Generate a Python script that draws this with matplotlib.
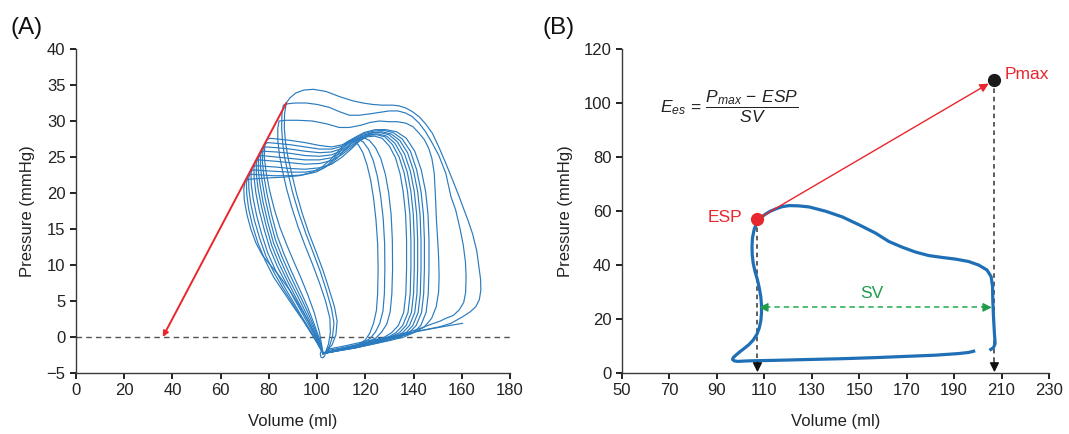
import matplotlib
matplotlib.use("Agg")
import matplotlib.pyplot as plt

plt.rcParams['font.family'] = ['Liberation Sans', 'DejaVu Sans']
plt.rcParams['mathtext.fontset'] = 'custom'
plt.rcParams['mathtext.it'] = 'Liberation Sans:italic'
plt.rcParams['mathtext.rm'] = 'Liberation Sans'
plt.rcParams['mathtext.sf'] = 'Liberation Sans'

# ---------------- Panel A data: pressure-volume loops (volume ml, pressure mmHg)
LOOP_A01 = [(104.5,-1.7),(112,-1.2),(120,-0.6),(128,-0.1),(135,0.3),(143,0.9),(150.6,1.4),(155.5,1.9),
            (160.3,2.8),(163.5,3.5),(165.8,4.2),(167.3,5.2),(167.9,6.5),(167.8,8.0),(167.2,9.5),(166.2,12.0),
            (164.5,14.3),(162.8,16.0),(161.0,17.6),(158.9,19.5),(156.2,21.8),(153.4,24.1),(150.6,26.3),
            (147.8,28.3),(145.0,29.6),(142.3,30.6),(139.5,31.3),(136.8,31.8),(134.0,32.1),(131.3,32.2),
            (127,32.2),(123,32.3),(119,32.5),(114.8,32.8),(109.2,33.4),(103.7,34.1),(98.5,34.4),(94.5,34.3),
            (91.2,33.9),(88.7,33.2),(87.2,32.5),(86.5,31.0),(86.4,29.0),(86.9,27.0),(88.0,24.8),(89.6,22.5),
            (91.4,20.0),(93.8,17.2),(96.6,14.4),(99.6,11.8),(102.4,9.3),(105.0,6.6),(107.2,4.2),(108.3,2.2),
            (107.8,0.3),(106.2,-1.1),(104.5,-1.7)]
LOOP_A02 = [(104.0,-1.9),(112,-1.4),(120,-0.8),(128,-0.2),(135,0.4),(142,1.1),(147.5,1.8),(151,2.2),
            (153.4,2.6),(156.5,3.0),(158.9,3.75),(160.8,4.8),(161.6,6.2),(161.8,8.4),(161.5,10.5),(160.6,12.8),
            (159.3,15.0),(157.5,17.6),(155.5,19.5),(153.4,22.7),(150.5,25.2),(147.8,26.9),(145,28.5),
            (142.3,29.7),(139.5,30.6),(136.8,31.1),(133.5,31.4),(129.9,31.4),(126,31.2),(122,31.0),
            (117.5,30.8),(113.4,30.8),(109.2,31.3),(105,31.9),(100,32.3),(95.5,32.5),(91,32.5),(88,32.4),
            (86.0,32.2),(85.4,31.0),(85.3,29.0),(85.7,27.0),(86.6,24.8),(88.1,22.5),(89.9,20.0),(92.4,17.2),
            (95.3,14.4),(98.4,11.7),(101.3,9.1),(103.9,6.4),(106.0,3.9),(107.0,1.9),(106.4,0.1),(105.2,-1.2),
            (104.0,-1.9)]
LOOP_A03 = [(103.5,-2.1),(110,-1.7),(117,-1.2),(124,-0.7),(130,-0.3),(135,0.1),(140,0.6),(144.5,1.4),
            (147.5,2.6),(149.4,4.2),(150.4,6.3),(150.6,8.4),(150.4,11.0),(150.0,13.5),(149.5,16.2),(149.1,19.3),
            (148.6,22.7),(147.6,24.8),(146.3,26.2),(144.5,27.4),(142.3,28.3),(139.8,29.2),(136.8,29.7),
            (133.3,29.9),(129.9,29.9),(125.8,30.0),(122,29.8),(118,29.4),(113.4,29.1),(109.2,29.1),(104,29.6),
            (98,30.0),(92,30.1),(87,30.1),(84.2,30.0),(83.7,29.0),(83.7,27.3),(84.4,25.2),(85.7,23.0),
            (87.4,20.5),(89.5,18.0),(92.1,15.3),(95.0,12.7),(98.1,10.1),(101.0,7.5),(103.5,5.0),(105.3,2.6),
            (105.5,0.6),(104.7,-1.0),(103.5,-2.1)]
LOOP_A04 = [(102.5,-2.3),(109,-1.9),(116,-1.5),(123,-1.0),(130,-0.5),(136,0.0),(140,0.6),(143,1.6),(145.2,3.4),
            (146.1,6.0),(146.4,9.5),(146.4,13.5),(146.0,17.0),(145.0,20.2),
            (143.2,23.2),(140.5,25.8),(137,27.6),(133,28.5),(128.5,28.8),(124,28.8),
            (119.5,28.4),(115,27.6),(110.5,26.7),(106,26.4),(101,26.6),(95,27.0),(89,27.3),(83.5,27.5),(80.5,27.6),
            (79.1,27.4),
            (78.3,26.5),(78.1,25.0),(78.8,23.0),(80.2,20.5),(82.2,17.8),(84.6,15.2),(87.4,12.8),(90.3,10.5),
            (93.3,8.2),(96.2,5.8),(98.9,3.3),(101.0,0.6),(102.5,-2.3)]
LOOP_A05 = [(102.5,-2.3),(109,-1.9),(116,-1.5),(123,-1.0),(129,-0.5),(134,0.0),(138.2,0.6),(141.1,1.6),(143.3,3.4),
            (144.2,6.0),(144.5,9.5),(144.5,13.5),(144.1,17.0),(143.1,20.2),
            (141.3,23.2),(138.7,25.8),(135.3,27.5),(131.5,28.4),(127.5,28.7),(123.5,28.6),
            (119,28.2),(114.8,27.4),(110.5,26.5),(106,26.1),(101,26.1),(95,26.4),(89,26.7),(83,26.9),(79.6,27.0),
            (78.2,26.8),
            (77.5,25.9),(77.3,24.4),(77.9,22.4),(79.2,19.9),(81.1,17.0),(83.5,14.0),(86.3,11.5),(89.5,9.0),
            (92.8,6.6),(96.0,4.2),(98.8,1.8),(101.0,-0.3),(102.5,-2.3)]
LOOP_A06 = [(102.5,-2.3),(109,-1.9),(116,-1.5),(122,-1.0),(128,-0.5),(133,0.0),(136.9,0.6),(139.7,1.6),(141.9,3.4),
            (142.8,6.0),(143.1,9.5),(143.1,13.5),(142.7,17.0),(141.7,20.2),
            (140.0,23.1),(137.5,25.6),(134.3,27.3),(130.7,28.2),(126.8,28.5),(123,28.4),
            (118.8,28.0),(114.6,27.2),(110.4,26.2),(106,25.7),(101,25.6),(95,25.8),(89,26.1),(83,26.3),(78.7,26.4),
            (77.3,26.2),
            (76.6,25.3),(76.5,23.8),(77.1,21.8),(78.4,19.3),(80.3,16.5),(82.7,13.5),(85.6,11.0),(88.8,8.6),
            (92.2,6.2),(95.5,3.9),(98.5,1.6),(100.8,-0.4),(102.5,-2.3)]
LOOP_A07 = [(102.5,-2.3),(108,-1.9),(115,-1.5),(121,-1.0),(127,-0.5),(132,0.0),(135.5,0.6),(138.3,1.6),(140.5,3.4),
            (141.4,6.0),(141.7,9.5),(141.7,13.5),(141.3,17.0),(140.3,20.2),
            (138.7,23.0),(136.3,25.4),(133.3,27.1),(129.8,28.1),(126.0,28.4),(122.3,28.3),
            (118.5,27.8),(114.4,26.9),(110.3,25.9),(106,25.3),(101,25.1),(95,25.2),(89,25.5),(83,25.7),(77.7,25.8),
            (76.3,25.6),
            (75.7,24.7),(75.6,23.2),(76.3,21.2),(77.6,18.7),(79.5,16.0),(81.9,13.1),(84.9,10.6),(88.1,8.2),
            (91.6,5.9),(95.0,3.6),(98.2,1.4),(100.6,-0.5),(102.5,-2.3)]
LOOP_A08 = [(102.5,-2.3),(108,-1.9),(114,-1.5),(120,-1.0),(126,-0.5),(130.5,0.0),(134.1,0.6),(136.9,1.6),(139.1,3.4),
            (140.0,6.0),(140.3,9.5),(140.3,13.5),(139.9,17.0),(138.9,20.2),
            (137.4,22.9),(135.1,25.2),(132.3,26.9),(128.9,27.9),(125.3,28.2),(121.7,28.1),
            (118.2,27.6),(114.2,26.6),(110.2,25.6),(106,24.9),(101,24.6),(95,24.6),(89,24.8),(83,25.0),(76.8,25.2),
            (75.4,25.0),
            (74.8,24.1),(74.8,22.6),(75.5,20.6),(76.9,18.2),(78.8,15.5),(81.2,12.7),(84.2,10.2),(87.5,7.9),
            (91.0,5.6),(94.5,3.4),(97.9,1.2),(100.4,-0.6),(102.5,-2.3)]
LOOP_A09 = [(102.5,-2.3),(108,-1.9),(114,-1.5),(119.5,-1.0),(125,-0.5),(129.5,0.0),(132.7,0.6),(135.5,1.6),(137.7,3.4),
            (138.6,6.0),(138.9,9.5),(138.9,13.5),(138.5,17.0),(137.5,20.2),
            (136.1,22.8),(134.0,25.0),(131.3,26.7),(128.1,27.8),(124.7,28.1),(121.3,28.0),
            (117.9,27.4),(114.0,26.3),(110.1,25.3),(106,24.5),(101,24.1),(95,24.0),(89,24.2),(83,24.4),(75.8,24.6),
            (74.4,24.4),
            (73.8,23.5),(73.9,22.0),(74.6,20.0),(76.0,17.6),(78.0,15.0),(80.4,12.3),(83.5,9.8),(86.9,7.6),
            (90.5,5.3),(94.0,3.2),(97.6,1.0),(100.2,-0.7),(102.5,-2.3)]
LOOP_A10 = [(102.5,-2.3),(108,-1.9),(113.5,-1.5),(119,-1.0),(124,-0.5),(128,0.0),(130.9,0.6),(133.7,1.6),(135.9,3.4),
            (136.8,6.0),(137.1,9.5),(137.1,13.5),(136.7,17.0),(135.7,20.2),
            (134.4,22.7),(132.5,24.9),(130.0,26.5),(127.0,27.6),(123.8,27.9),(120.6,27.8),
            (117.5,27.2),(113.8,26.0),(110.0,24.9),(106,24.0),(101,23.5),(95,23.3),(89,23.4),(83,23.6),(74.6,23.8),
            (73.2,23.6),
            (72.6,22.7),(72.7,21.2),(73.5,19.2),(74.9,16.9),(77.0,14.3),(79.5,11.7),(82.7,9.3),(86.2,7.1),
            (89.9,5.0),(93.5,2.9),(97.3,0.8),(100.0,-0.8),(102.5,-2.3)]
LOOP_A11 = [(102.5,-2.3),(107,-2.0),(112,-1.6),(117,-1.2),(121,-0.7),(124.5,-0.1),(126.8,0.7),(128.9,1.8),(130.3,3.5),
            (131.0,6.0),(131.3,9.5),(131.2,13.5),(130.7,17.0),(129.7,20.0),
            (128.3,22.6),(126.4,24.8),(124.2,26.3),(121.7,27.3),(119.3,27.7),(117,27.6),
            (114.5,27.0),(111.5,26.0),(108.5,24.9),(105,23.9),(101,23.2),(95,22.9),(89,22.9),(83,23.0),(73.6,23.2),
            (72.2,23.0),
            (71.6,22.0),(71.7,20.5),(72.5,18.5),(74.0,16.2),(76.2,13.7),(78.8,11.2),(82.2,8.9),(85.8,6.8),
            (89.6,4.8),(93.3,2.8),(97.2,0.7),(100.0,-0.8),(102.5,-2.3)]
LOOP_A12 = [(102.5,-2.3),(106.5,-2.0),(111,-1.7),(115.5,-1.3),(119,-0.8),(122,-0.2),(124.2,0.7),(126.0,1.9),(127.3,3.6),
            (127.9,6.0),(128.1,9.5),(128.0,13.0),(127.4,16.5),(126.3,19.7),
            (125.0,22.3),(123.3,24.5),(121.3,26.1),(119.1,27.1),(116.8,27.5),(114.6,27.4),
            (112.3,26.8),(109.6,25.8),(106.8,24.7),(103.5,23.6),(99.5,22.9),(94,22.5),(88,22.4),(82,22.4),(72.7,22.6),
            (71.3,22.4),
            (70.7,21.4),(70.8,19.9),(71.6,17.8),(73.2,15.5),(75.5,13.0),(78.5,10.6),(82.0,8.3),(86.2,6.2),
            (90.2,4.2),(94.2,2.3),(97.8,0.4),(100.4,-1.0),(102.5,-2.3)]
LOOP_A13 = [(102.5,-2.3),(106,-2.0),(110,-1.7),(114,-1.4),(117.5,-1.0),(120,-0.4),(121.8,0.5),(123.4,1.9),(124.6,3.7),
            (125.1,6.0),(125.3,9.5),(125.1,13.0),(124.4,16.3),(123.4,19.3),
            (122.2,21.8),(120.7,23.9),(119.0,25.6),(117.1,26.7),(115,27.3),(113,27.2),
            (110.8,26.6),(108.2,25.6),(105.5,24.6),(102,23.6),(98,22.9),(92.5,22.4),(86,22.2),(80,22.1),(71.6,21.9),
            (70.2,21.7),
            (69.6,20.6),(69.8,19.0),(70.9,17.0),(72.5,15.0),(74.7,13.0),(77.4,11.3),(80.6,10.0),(84.5,8.4),
            (88.6,6.5),(92.5,4.4),(96.2,2.3),(99.6,0.0),(102.5,-2.3)]
TRACE_END_A = [(103,-2.2),(110,-1.6),(118,-1.0),(126,-0.4),(134,0.2),(142,0.8),(150,1.3),(155,1.6),(160.3,1.9)]
CUSP_A = [(102.5,-2.3),(101.8,-1.9),(101.3,-2.3),(101.6,-2.8),(102.4,-2.9),(103.2,-2.6),(103.3,-2.1),(102.5,-2.3)]
LOOPS_A = [LOOP_A01, LOOP_A02, LOOP_A03, LOOP_A04, LOOP_A05, LOOP_A06, LOOP_A07, LOOP_A08,
           LOOP_A09, LOOP_A10, LOOP_A11, LOOP_A12, LOOP_A13, TRACE_END_A, CUSP_A]
ESPVR_A = [(87.2, 32.5), (36.0, 0.0)]   # start, end of red arrow

XTICKS_A = [0, 20, 40, 60, 80, 100, 120, 140, 160, 180]
YTICKS_A = [-5, 0, 5, 10, 15, 20, 25, 30, 35, 40]

# ---------------- Panel B data
LOOP_B = [(204.9,8.4),(206.6,9.4),(207.3,10.9),(207.0,14.6),(206.6,20.8),(206.3,27.0),(206.2,32.0),
          (205.6,35.7),(203.8,38.2),(200.3,40.0),(196.1,41.3),(190.5,42.2),(184.9,42.8),(179.3,43.5),
          (173.7,44.8),(168.1,46.6),(162.5,48.7),(156.9,51.8),(149.9,54.9),(142.9,57.8),(135.9,59.9),
          (128.9,61.5),(124.5,61.9),(120.5,62.0),(117.5,61.6),(114.9,60.8),(112.5,59.9),(110.6,58.9),
          (109.0,57.9),(107.8,56.8),(106.6,55.2),(105.7,53.1),(105.0,50.0),(104.8,46.9),(104.9,43.8),
          (105.3,40.7),(106.1,37.5),(107.1,34.5),(107.9,31.4),(108.5,28.3),(108.8,25.2),(108.8,22.1),
          (108.5,19.2),(107.8,16.5),(106.8,14.2),(105.3,12.2),(103.5,10.5),(101.5,9.1),(99.6,7.8),
          (98.0,6.6),(96.9,5.7),(96.6,5.0),(97.3,4.5),(98.7,4.3),(103.6,4.5),(114.9,4.7),(128.9,5.0),
          (142.9,5.3),(156.9,5.7),(170.9,6.2),(182.1,6.6),(191.9,7.2),(196.0,7.6),(198.9,8.2)]
ESP = (107.1, 57.0)
PMAX = (207.0, 108.5)
SV_LEVEL = 24.3
SV_LEFT = 107.8
SV_RIGHT = 205.9

XTICKS_B = [50, 70, 90, 110, 130, 150, 170, 190, 210, 230]
YTICKS_B = [0, 20, 40, 60, 80, 100, 120]

W, H = 1069, 434
fig = plt.figure(figsize=(W / 100, H / 100), dpi=100)

BLUE_A = '#2a7bbf'
BLUE_B = '#1f6fb6'
RED = '#e8262d'
GREEN_L = '#45b86a'
GREEN_D = '#1e9c4b'
TXT = '#222222'


def style_axes(ax):
    for s in ['top', 'right']:
        ax.spines[s].set_visible(False)
    for s in ['left', 'bottom']:
        ax.spines[s].set_color('#3a3a3a')
        ax.spines[s].set_linewidth(1.0)
    ax.tick_params(axis='both', direction='out', length=4.5, width=1.4, color='#222222',
                   labelsize=12, labelcolor=TXT, pad=3)


# ---------------- Panel A
axA = fig.add_axes([76 / W, (H - 373) / H, 434 / W, 324 / H])
style_axes(axA)
axA.set_xlim(0, 180)
axA.set_ylim(-5, 40)
axA.set_xticks(XTICKS_A)
axA.set_yticks(YTICKS_A)
axA.axhline(0, color='#555555', lw=1.0, ls=(0, (4, 3)), zorder=1)
for loop in LOOPS_A:
    xs = [p[0] for p in loop]
    ys = [p[1] for p in loop]
    axA.plot(xs, ys, color=BLUE_A, lw=0.85, solid_joinstyle='round', zorder=2)
axA.annotate('', xy=ESPVR_A[1], xytext=ESPVR_A[0],
             arrowprops=dict(arrowstyle='-|>', color=RED, lw=1.4, mutation_scale=8,
                             shrinkA=0, shrinkB=0), zorder=4)
axA.set_xlabel('Volume (ml)', fontsize=12, color=TXT, labelpad=11)
axA.set_ylabel('Pressure (mmHg)', fontsize=12, color=TXT, labelpad=8)

# ---------------- Panel B
axB = fig.add_axes([622 / W, (H - 373) / H, 427 / W, 324 / H])
style_axes(axB)
axB.set_xlim(50, 230)
axB.set_ylim(0, 120)
axB.set_xticks(XTICKS_B)
axB.set_yticks(YTICKS_B)
axB.plot([p[0] for p in LOOP_B], [p[1] for p in LOOP_B], color=BLUE_B, lw=2.3,
         solid_capstyle='butt', solid_joinstyle='round', zorder=3)

# dashed verticals with arrowheads
for xv, yv in [ESP, PMAX]:
    axB.plot([xv, xv], [yv, 3.0], color='#333333', lw=1.1, ls=(0, (3, 2.5)), zorder=2)
    axB.annotate('', xy=(xv, 0.3), xytext=(xv, 4.0),
                 arrowprops=dict(arrowstyle='-|>', color='#111111', lw=1.0, mutation_scale=14,
                                 shrinkA=0, shrinkB=0), zorder=4)

# ESP -> Pmax arrow
axB.annotate('', xy=(204.6, 107.2), xytext=ESP,
             arrowprops=dict(arrowstyle='-|>', color=RED, lw=1.0, mutation_scale=13,
                             shrinkA=0, shrinkB=0), zorder=4)
axB.plot([ESP[0]], [ESP[1]], 'o', color=RED, ms=8.5, zorder=5)
axB.plot([PMAX[0]], [PMAX[1]], 'o', color='#1a1a1a', ms=8.5, zorder=5)

# SV double arrow
axB.plot([SV_LEFT + 2.5, SV_RIGHT - 2.5], [SV_LEVEL, SV_LEVEL], color=GREEN_L, lw=1.3,
         ls=(0, (3, 2.2)), zorder=2)
axB.annotate('', xy=(SV_RIGHT, SV_LEVEL), xytext=(SV_RIGHT - 3, SV_LEVEL),
             arrowprops=dict(arrowstyle='-|>', color=GREEN_D, lw=1.0, mutation_scale=13,
                             shrinkA=0, shrinkB=0), zorder=4)
axB.annotate('', xy=(SV_LEFT, SV_LEVEL), xytext=(SV_LEFT + 3, SV_LEVEL),
             arrowprops=dict(arrowstyle='-|>', color=GREEN_D, lw=1.0, mutation_scale=13,
                             shrinkA=0, shrinkB=0), zorder=4)

axB.text(155.5, 29.6, 'SV', color=GREEN_D, fontsize=12.5, ha='center', va='center')
axB.text(100.6, 57.5, 'ESP', color=RED, fontsize=12.5, ha='right', va='center')
axB.text(211.5, 110.4, 'Pmax', color=RED, fontsize=12.5, ha='left', va='center')
axB.text(95.0, 98.5, r'$E_{es}\,=\,\dfrac{P_{max}\,-\,ESP}{SV}$', color=TXT, fontsize=12.5,
         ha='center', va='center')

axB.set_xlabel('Volume (ml)', fontsize=12, color=TXT, labelpad=11)
axB.set_ylabel('Pressure (mmHg)', fontsize=12, color=TXT, labelpad=8)

fig.text(10 / W, 1 - 34 / H, '(A)', fontsize=17.5, color='#111111', va='baseline', ha='left')
fig.text(543 / W, 1 - 34 / H, '(B)', fontsize=17.5, color='#111111', va='baseline', ha='left')

fig.savefig('out.png', dpi=100)
